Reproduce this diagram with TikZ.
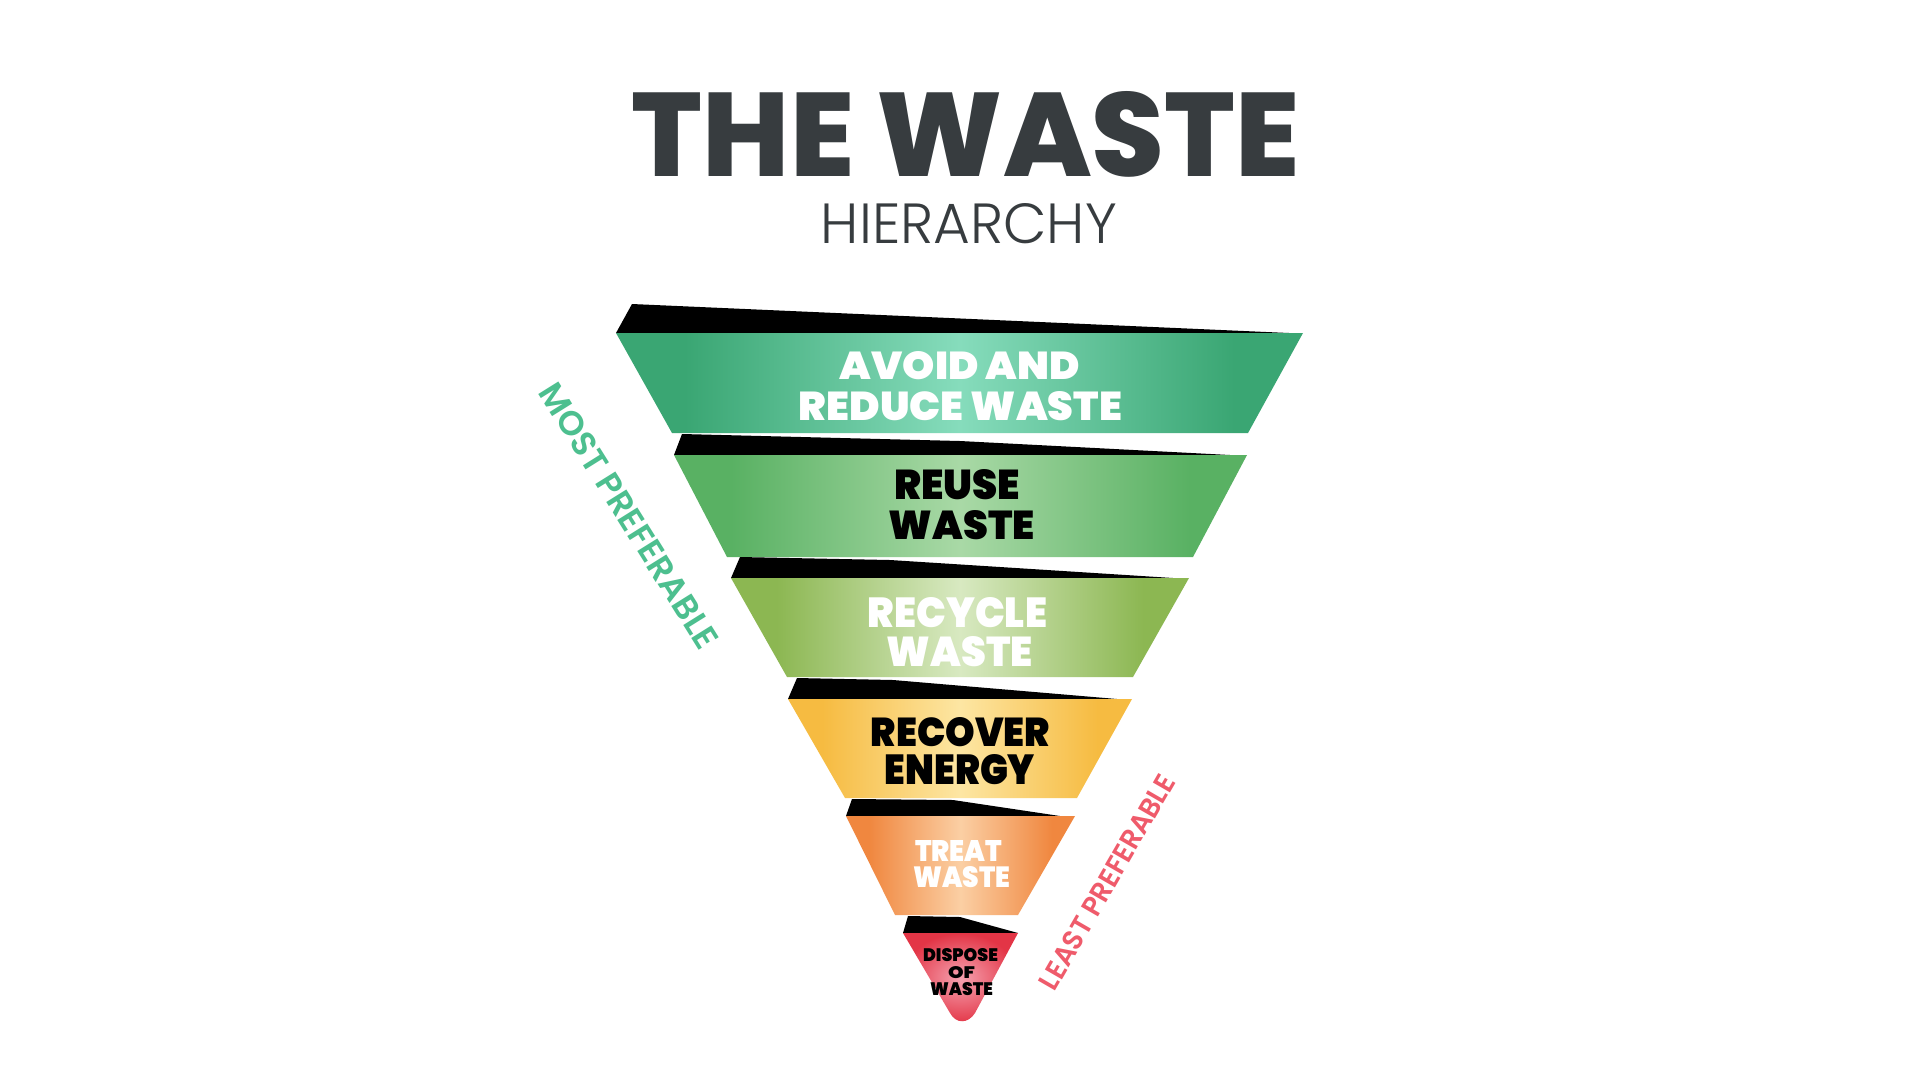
\documentclass[tikz,border=0pt]{standalone}
\usepackage{fontspec}
\usepackage{graphicx}
\newfontfamily\ttlfont{Poppins ExtraBold}
\newfontfamily\bandfont{Poppins Black}
\newfontfamily\subfont{Poppins Light}
\newfontfamily\sidefont{Poppins SemiBold}
\definecolor{titlec}{HTML}{373C3F}
\definecolor{mostc}{HTML}{4DBF8F}
\definecolor{leastc}{HTML}{EF5B6B}
\definecolor{gAe}{HTML}{3AA673}
\definecolor{gAc}{HTML}{86DCBC}
\definecolor{gBe}{HTML}{59B163}
\definecolor{gBc}{HTML}{A9D9A6}
\definecolor{gCe}{HTML}{8CB752}
\definecolor{gCc}{HTML}{D8E9C1}
\definecolor{gDe}{HTML}{F6BB41}
\definecolor{gDc}{HTML}{FDE6A3}
\definecolor{gEe}{HTML}{F0873F}
\definecolor{gEc}{HTML}{FBCFA4}
\definecolor{gFe}{HTML}{E33546}
\definecolor{gFc}{HTML}{F5A2B0}
\pgfdeclarehorizontalshading{bandA}{100bp}{color(0bp)=(gAe); color(30bp)=(gAe); color(50bp)=(gAc); color(70bp)=(gAe); color(100bp)=(gAe)}
\pgfdeclarehorizontalshading{bandB}{100bp}{color(0bp)=(gBe); color(30bp)=(gBe); color(50bp)=(gBc); color(70bp)=(gBe); color(100bp)=(gBe)}
\pgfdeclarehorizontalshading{bandC}{100bp}{color(0bp)=(gCe); color(30bp)=(gCe); color(50bp)=(gCc); color(70bp)=(gCe); color(100bp)=(gCe)}
\pgfdeclarehorizontalshading{bandD}{100bp}{color(0bp)=(gDe); color(30bp)=(gDe); color(50bp)=(gDc); color(70bp)=(gDe); color(100bp)=(gDe)}
\pgfdeclarehorizontalshading{bandE}{100bp}{color(0bp)=(gEe); color(30bp)=(gEe); color(50bp)=(gEc); color(70bp)=(gEe); color(100bp)=(gEe)}
\begin{document}
\begin{tikzpicture}[x=1pt,y=-1pt,
  lbl/.style={inner sep=0pt,outer sep=0pt},
  ribbon/.style={fill=black}]
\useasboundingbox[fill=white] (0,0) rectangle (1920,1080);
% title
\node[lbl,text=titlec] (title) at (966,134.5) {\resizebox{668pt}{85pt}{\ttlfont THE WASTE}};
\node[lbl,text=titlec] (subtitle) at (969,224) {\resizebox{296pt}{40pt}{\subfont HIERARCHY}};
% band 1
\fill[ribbon] (616,333) -- (632,304) -- (1289,333) -- cycle;
\shade[shading=bandA] (616,333) -- (1303,333) -- (1248,433) -- (672,433) -- cycle;
% band 2
\fill[ribbon] (674,455) -- (682,434) -- (960,441) -- (1230,455) -- cycle;
\shade[shading=bandB] (674,455) -- (1247,455) -- (1193,557) -- (727,557) -- cycle;
% band 3
\fill[ribbon] (731,578) -- (740,557) -- (890,560) -- (1173,578) -- cycle;
\shade[shading=bandC] (731,578) -- (1189,578) -- (1133,677) -- (787,677) -- cycle;
% band 4
\fill[ribbon] (788,699) -- (797,678) -- (893,680) -- (1117,699) -- cycle;
\shade[shading=bandD] (788,699) -- (1132,699) -- (1077,798) -- (845,798) -- cycle;
% band 5
\fill[ribbon] (846,816) -- (852,799) -- (953,800) -- (1060,816) -- cycle;
\shade[shading=bandE] (846,816) -- (1075,816) -- (1018,915) -- (895,915) -- cycle;
% band 6
\fill[ribbon] (903,933) -- (908,916) -- (960,917) -- (1018,933) -- cycle;
\shade[inner color=gFc,outer color=gFe] (903,933) -- (1018,933) -- (975,1013) .. controls (968,1024) and (956,1024) .. (950,1013) -- cycle;
% band labels
\node[lbl,text=white] (t1a) at (960,366) {\resizebox{240pt}{28pt}{\bandfont AVOID AND}};
\node[lbl,text=white] (t1b) at (960.5,406.5) {\resizebox{323pt}{29pt}{\bandfont REDUCE WASTE}};
\node[lbl,text=black] (t2a) at (957,485) {\resizebox{126pt}{30pt}{\bandfont REUSE}};
\node[lbl,text=black] (t2b) at (962,525.5) {\resizebox{146pt}{29pt}{\bandfont WASTE}};
\node[lbl,text=white] (t3a) at (957.5,612.5) {\resizebox{179pt}{30pt}{\bandfont RECYCLE}};
\node[lbl,text=white] (t3b) at (960,652) {\resizebox{146pt}{30pt}{\bandfont WASTE}};
\node[lbl,text=black] (t4a) at (960.5,732.5) {\resizebox{179pt}{29pt}{\bandfont RECOVER}};
\node[lbl,text=black] (t4b) at (960,770) {\resizebox{150pt}{30pt}{\bandfont ENERGY}};
\node[lbl,text=white] (t5a) at (958.5,850.5) {\resizebox{87pt}{21pt}{\bandfont TREAT}};
\node[lbl,text=white] (t5b) at (961.5,877.5) {\resizebox{97pt}{21pt}{\bandfont WASTE}};
\node[lbl,text=black] (t6a) at (960.5,955.5) {\resizebox{75pt}{13pt}{\bandfont DISPOSE}};
\node[lbl,text=black] (t6b) at (961.5,973) {\resizebox{27pt}{12pt}{\bandfont OF}};
\node[lbl,text=black] (t6c) at (961.5,989.5) {\resizebox{63pt}{13pt}{\bandfont WASTE}};
% side labels
\node[lbl,text=mostc,rotate=-58] (most) at (629,516) {\resizebox{306pt}{24pt}{\sidefont MOST PREFERABLE}};
\node[lbl,text=leastc,rotate=60] (least) at (1107,882) {\resizebox{243pt}{20pt}{\sidefont LEAST PREFERABLE}};
\end{tikzpicture}
\end{document}
